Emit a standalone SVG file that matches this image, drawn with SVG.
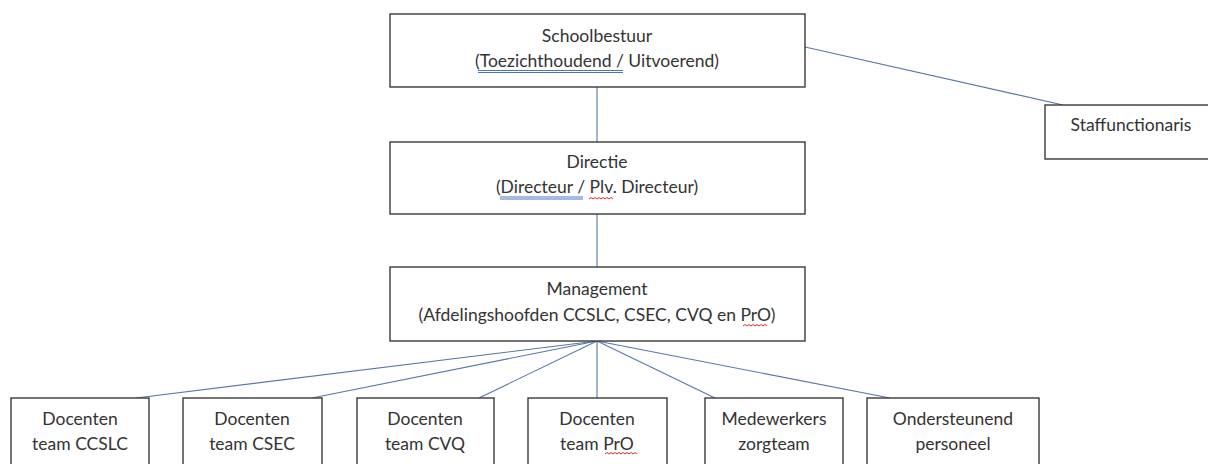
<svg xmlns="http://www.w3.org/2000/svg" width="1208" height="464" viewBox="0 0 1208 464">
<style>
.box{fill:#fff;stroke:#3a3a3a;stroke-width:1.4}
.t{font-family:Lato,"Open Sans","Liberation Sans",sans-serif;font-size:17.5px;fill:#333;text-anchor:middle}
.c{stroke:#5877ad;stroke-width:1.1;fill:none}
.ub{stroke:#4a74c9;stroke-width:1;fill:none}
.ur{stroke:#d93030;stroke-width:1;fill:none}
</style>
<rect width="1208" height="464" fill="#fff"/>
<g id="connectors">
<line class="c" x1="597" y1="87" x2="597" y2="142"/>
<line class="c" x1="597" y1="214" x2="597" y2="267"/>
<line class="c" x1="805" y1="47" x2="1063" y2="105"/>
<line class="c" x1="597" y1="341" x2="136" y2="398"/>
<line class="c" x1="597" y1="341" x2="312" y2="398"/>
<line class="c" x1="597" y1="341" x2="479" y2="398"/>
<line class="c" x1="597" y1="341" x2="597" y2="398"/>
<line class="c" x1="597" y1="341" x2="715" y2="398"/>
<line class="c" x1="597" y1="341" x2="890" y2="398"/>
</g>
<g id="schoolbestuur">
<rect class="box" x="390" y="14" width="415" height="73"/>
<text class="t" x="597" y="42">Schoolbestuur</text>
<text class="t" x="597" y="67">(Toezichthoudend / Uitvoerend)</text>
</g>
<g id="staffunctionaris">
<rect class="box" x="1045" y="105" width="170" height="54"/>
<text class="t" x="1131" y="131">Staffunctionaris</text>
</g>
<g id="directie">
<rect class="box" x="390" y="142" width="415" height="72"/>
<text class="t" x="597" y="168">Directie</text>
<text class="t" x="597" y="193">(Directeur / Plv. Directeur)</text>
</g>
<g id="management">
<rect class="box" x="390" y="267" width="415" height="74"/>
<text class="t" x="597" y="295">Management</text>
<text class="t" x="597" y="321">(Afdelingshoofden CCSLC, CSEC, CVQ en PrO)</text>
</g>
<g id="docenten-ccslc">
<rect class="box" x="11" y="398" width="138" height="80"/>
<text class="t" x="80" y="425">Docenten</text>
<text class="t" x="80" y="450">team CCSLC</text>
</g>
<g id="docenten-csec">
<rect class="box" x="183" y="398" width="139" height="80"/>
<text class="t" x="252" y="425">Docenten</text>
<text class="t" x="252" y="450">team CSEC</text>
</g>
<g id="docenten-cvq">
<rect class="box" x="357" y="398" width="137" height="80"/>
<text class="t" x="425" y="425">Docenten</text>
<text class="t" x="425" y="450">team CVQ</text>
</g>
<g id="docenten-pro">
<rect class="box" x="528" y="398" width="139" height="80"/>
<text class="t" x="597" y="425">Docenten</text>
<text class="t" x="597" y="450">team PrO</text>
</g>
<g id="medewerkers-zorgteam">
<rect class="box" x="705" y="398" width="138" height="80"/>
<text class="t" x="774" y="425">Medewerkers</text>
<text class="t" x="774" y="450">zorgteam</text>
</g>
<g id="ondersteunend-personeel">
<rect class="box" x="867" y="398" width="172" height="80"/>
<text class="t" x="953" y="425">Ondersteunend</text>
<text class="t" x="953" y="450">personeel</text>
</g>
<g id="proofing-marks">
<path class="ub" d="M478 70.5H623M478 72.5H623"/>
<path class="ub" d="M500 197H583M500 199H583"/>
<path class="ur" d="M589 199l2 -1.5l2 1.5l2 -1.5l2 1.5l2 -1.5l2 1.5l2 -1.5l2 1.5l2 -1.5l2 1.5l2 -1.5l2 1.5"/>
<path class="ur" d="M743 326l2 -1.5l2 1.5l2 -1.5l2 1.5l2 -1.5l2 1.5l2 -1.5l2 1.5l2 -1.5l2 1.5l2 -1.5l2 1.5"/>
<path class="ur" d="M605 454l2 -1.5l2 1.5l2 -1.5l2 1.5l2 -1.5l2 1.5l2 -1.5l2 1.5l2 -1.5l2 1.5l2 -1.5l2 1.5l2 -1.5l2 1.5l2 -1.5l2 1.5"/>
</g>
</svg>
